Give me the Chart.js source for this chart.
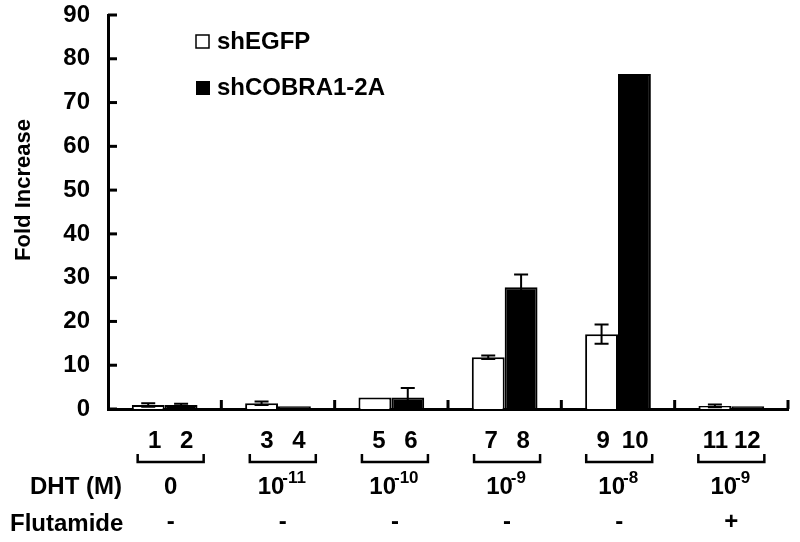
<!DOCTYPE html>
<html>
<head>
<meta charset="utf-8">
<script src="https://cdn.jsdelivr.net/npm/chart.js@4/dist/chart.umd.min.js"></script>
<style>
  html, body { margin: 0; padding: 0; background: #fff; }
</style>
</head>
<body>
<canvas id="foldChart" width="800" height="542"></canvas>
<script>
// groups of DHT treatment, two shRNA series
const groups = ["0", "1e-11", "1e-10", "1e-9", "1e-8", "1e-9+flu"];
const laneNumbers = [["1", "2"], ["3", "4"], ["5", "6"], ["7", "8"], ["9", "10"], ["11", "12"]];
const dhtBase = ["0", "10", "10", "10", "10", "10"];
const dhtExp = ["", "-11", "-10", "-9", "-8", "-9"];
const flutamide = ["-", "-", "-", "-", "-", "+"];

const shEGFP = [0.9, 1.3, 2.6, 11.8, 17.1, 0.7];
const shEGFPErr = [0.4, 0.4, 0, 0.4, 2.2, 0.3];
const shCOBRA = [0.9, 0.6, 2.6, 27.8, 76.5, 0.6];
const shCOBRAErr = [0.3, 0, 2.2, 2.9, 0, 0];

const yTicks = [0, 10, 20, 30, 40, 50, 60, 70, 80, 90];

const FAMILY = "'Liberation Sans', Arial, sans-serif";
const FONT = "bold 24px " + FAMILY;
const SUP = "bold 17px " + FAMILY;

const decorations = {
  id: "decorations",
  afterDatasetsDraw(chart) {
    const ctx = chart.ctx;
    const x = chart.scales.x;
    const y = chart.scales.y;
    ctx.save();
    ctx.strokeStyle = "#000";
    ctx.fillStyle = "#000";

    // error bars
    const errs = [shEGFPErr, shCOBRAErr];
    const vals = [shEGFP, shCOBRA];
    ctx.lineWidth = 2;
    for (let d = 0; d < 2; d++) {
      const meta = chart.getDatasetMeta(d);
      meta.data.forEach((bar, i) => {
        const e = errs[d][i];
        if (!e) return;
        const top = y.getPixelForValue(vals[d][i] + e);
        const bot = y.getPixelForValue(Math.max(0, vals[d][i] - e));
        ctx.beginPath();
        ctx.moveTo(bar.x, bot);
        ctx.lineTo(bar.x, top);
        ctx.moveTo(bar.x - 7, top);
        ctx.lineTo(bar.x + 7, top);
        ctx.moveTo(bar.x - 7, bot);
        ctx.lineTo(bar.x + 7, bot);
        ctx.stroke();
      });
    }

    // inward ticks
    ctx.lineWidth = 3;
    yTicks.forEach(v => {
      const py = y.getPixelForValue(v);
      ctx.beginPath();
      ctx.moveTo(x.left, py);
      ctx.lineTo(x.left + 9, py);
      ctx.stroke();
    });
    const step = (x.right - x.left) / groups.length;
    for (let i = 1; i <= groups.length; i++) {
      const px = x.left + i * step;
      ctx.beginPath();
      ctx.moveTo(px, y.bottom);
      ctx.lineTo(px, y.bottom - 9);
      ctx.stroke();
    }

    // legend
    ctx.lineWidth = 1.5;
    ctx.fillStyle = "#fff";
    ctx.fillRect(196, 35, 13, 13);
    ctx.strokeRect(196, 35, 13, 13);
    ctx.fillStyle = "#000";
    ctx.fillRect(196, 81, 14, 14);
    ctx.font = FONT;
    ctx.textBaseline = "alphabetic";
    ctx.textAlign = "left";
    ctx.fillText("shEGFP", 217, 49);
    ctx.fillText("shCOBRA1-2A", 217, 95);

    // y title
    ctx.save();
    ctx.translate(30, 190);
    ctx.rotate(-Math.PI / 2);
    ctx.textAlign = "center";
    ctx.font = "bold 22px " + FAMILY;
    ctx.fillText("Fold Increase", 0, 0);
    ctx.restore();

    // lane numbers, brackets, DHT and flutamide rows
    ctx.lineWidth = 2.5;
    groups.forEach((g, i) => {
      const c = x.getPixelForValue(i) + 6 - 1.2 * i;
      ctx.textAlign = "center";
      ctx.font = FONT;
      ctx.fillText(laneNumbers[i][0], c - 16, 448);
      ctx.fillText(laneNumbers[i][1], c + 16, 448);
      ctx.beginPath();
      ctx.moveTo(c - 33, 454);
      ctx.lineTo(c - 33, 462);
      ctx.lineTo(c + 33, 462);
      ctx.lineTo(c + 33, 454);
      ctx.stroke();

      // DHT concentration with superscript exponent
      ctx.font = FONT;
      const wBase = ctx.measureText(dhtBase[i]).width;
      ctx.font = SUP;
      const wExp = ctx.measureText(dhtExp[i]).width;
      const start = c - (wBase + wExp) / 2;
      ctx.textAlign = "left";
      ctx.font = FONT;
      ctx.fillText(dhtBase[i], start, 494);
      ctx.font = SUP;
      ctx.fillText(dhtExp[i], start + wBase - 2, 483);

      ctx.textAlign = "center";
      ctx.font = FONT;
      ctx.fillText(flutamide[i], c, 529);
    });
    ctx.textAlign = "left";
    ctx.font = FONT;
    ctx.fillText("DHT (M)", 30, 494);
    ctx.fillText("Flutamide", 10, 531);
    ctx.restore();
  }
};

new Chart(document.getElementById("foldChart").getContext("2d"), {
  type: "bar",
  data: {
    labels: groups,
    datasets: [
      {
        label: "shEGFP",
        data: shEGFP,
        backgroundColor: "#fff",
        borderColor: "#000",
        borderWidth: 2,
        categoryPercentage: 0.58,
        barPercentage: 1
      },
      {
        label: "shCOBRA1-2A",
        data: shCOBRA,
        backgroundColor: "#000",
        borderColor: "#000",
        borderWidth: 2,
        categoryPercentage: 0.58,
        barPercentage: 1
      }
    ]
  },
  options: {
    responsive: false,
    animation: false,
    layout: { padding: { top: 15, right: 12, left: 0, bottom: 0 } },
    plugins: {
      legend: { display: false },
      tooltip: { enabled: false }
    },
    scales: {
      x: {
        grid: { display: false, drawTicks: false },
        border: { display: true, color: "#000", width: 3 },
        ticks: { display: false },
        afterFit(scale) { scale.height = 133; }
      },
      y: {
        min: 0,
        max: 90,
        grid: { display: false, drawTicks: false },
        border: { display: true, color: "#000", width: 3 },
        ticks: {
          stepSize: 10,
          color: "#000",
          padding: 18,
          font: { family: FAMILY, size: 24, weight: "bold" }
        },
        afterFit(scale) {
          scale.width = 108;
          scale.paddingTop = 0;
          scale.paddingBottom = 0;
        }
      }
    }
  },
  plugins: [decorations]
});
</script>
</body>
</html>
